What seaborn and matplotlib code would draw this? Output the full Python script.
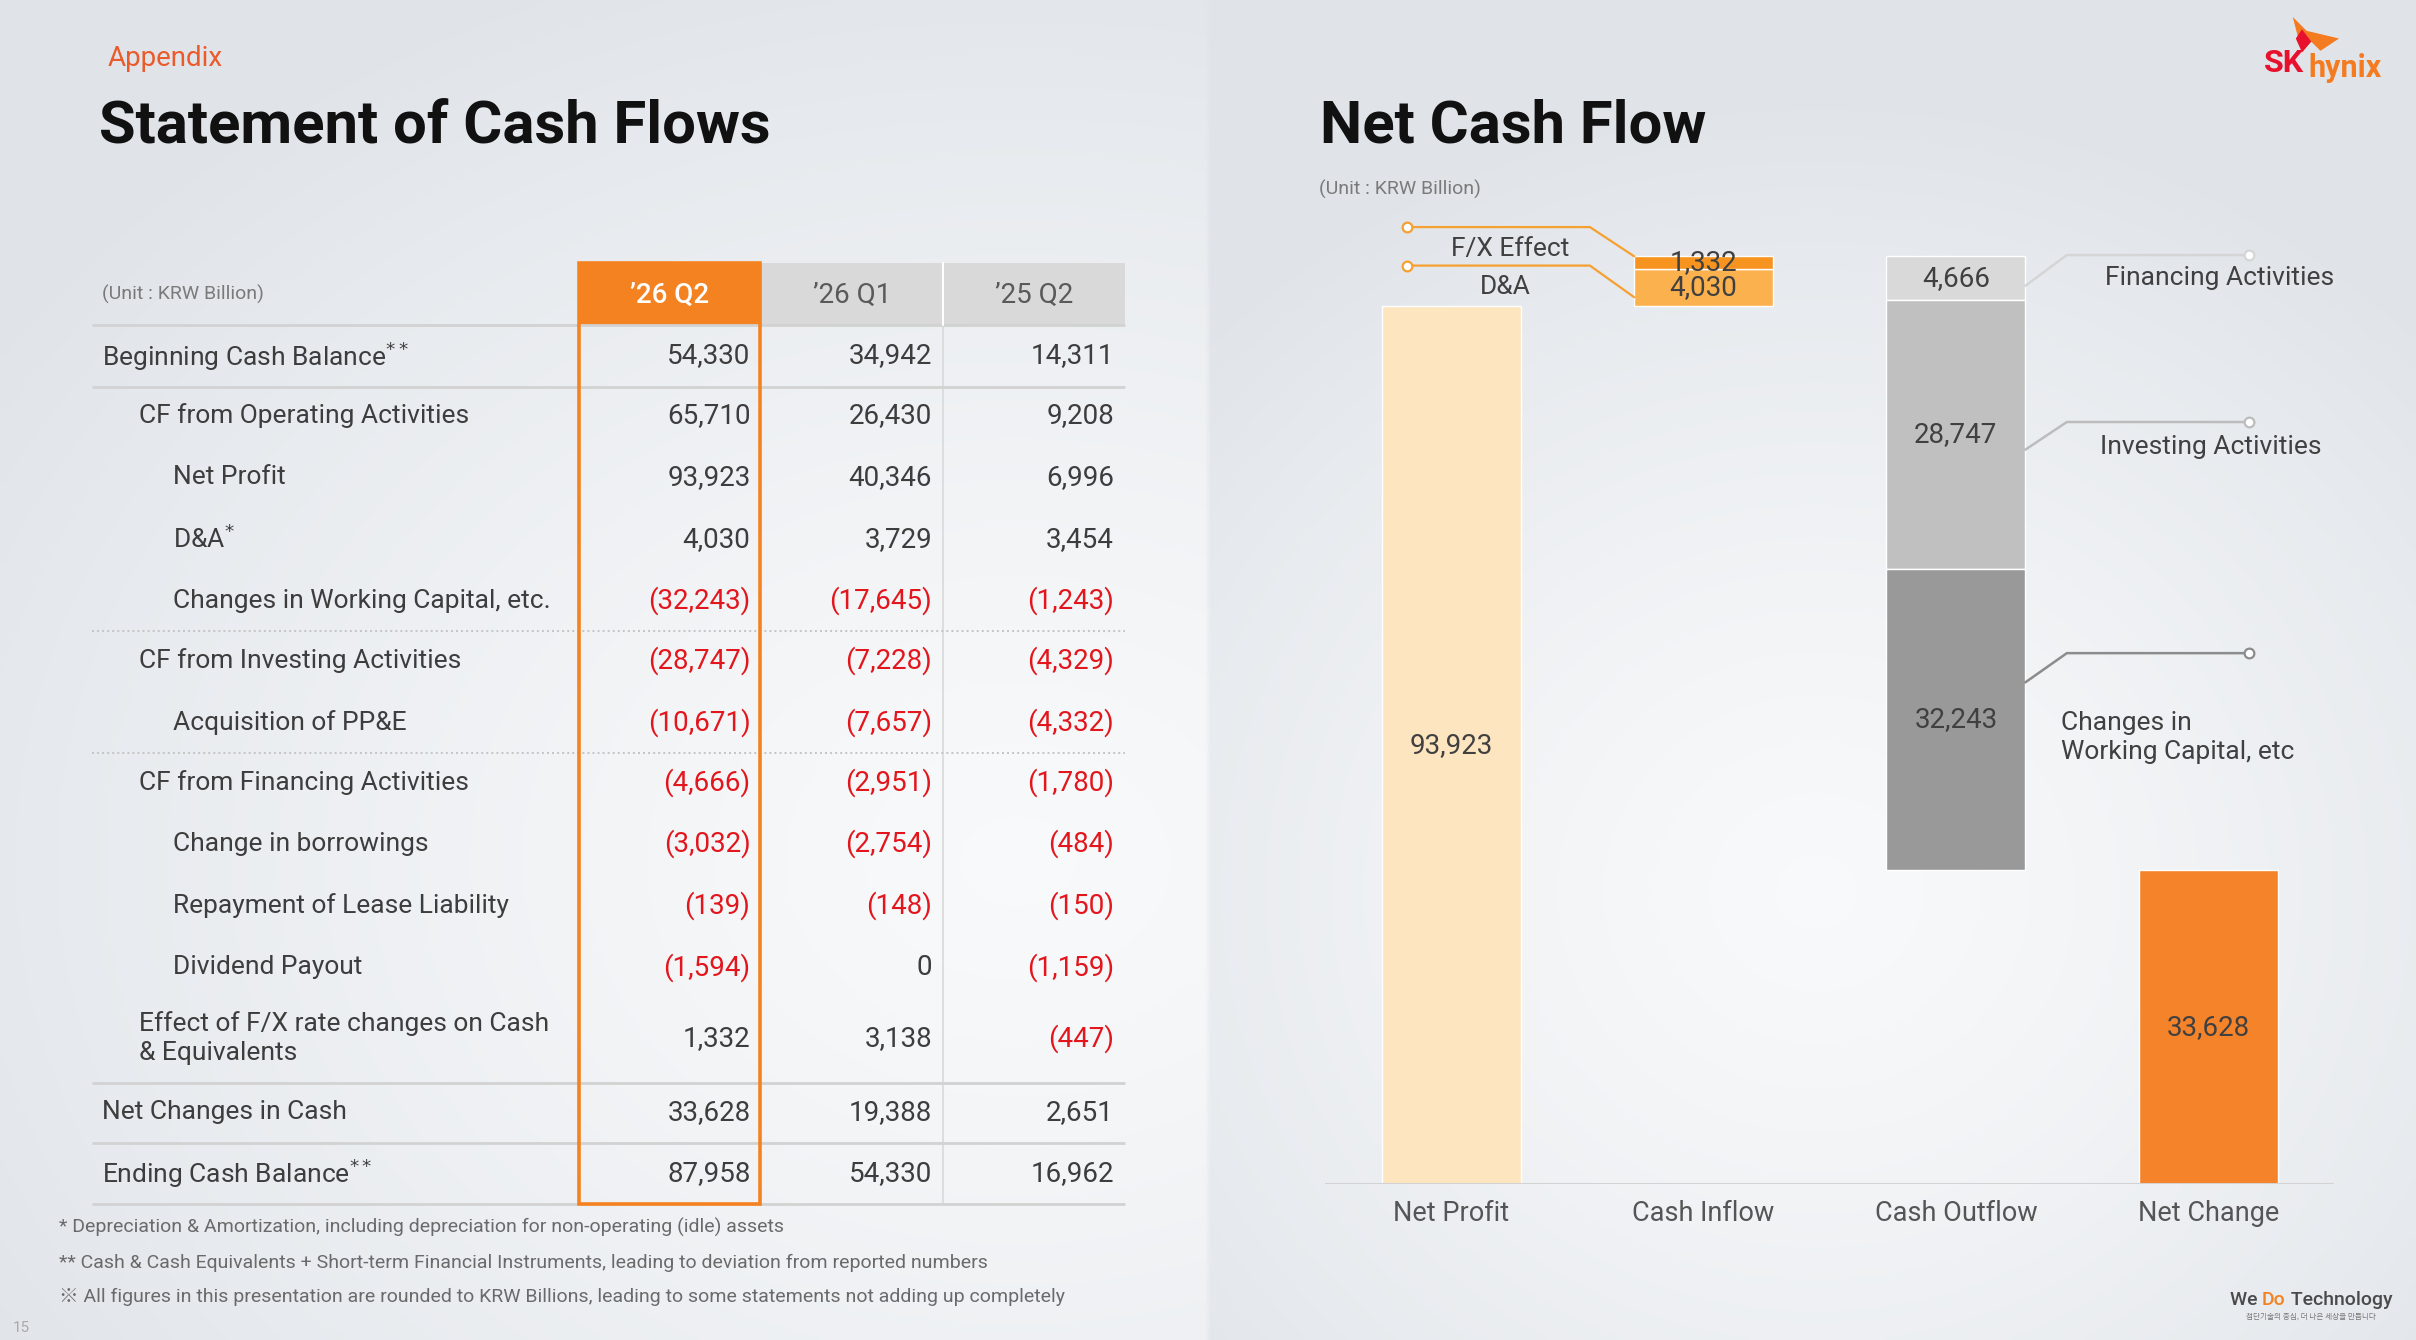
import numpy as np
import pandas as pd
import matplotlib
matplotlib.use("Agg")
import matplotlib.pyplot as plt
import seaborn as sns
from matplotlib.patches import Rectangle, Polygon

# ---------------- table: statement of cash flows ----------------
row_labels = [
    "Beginning Cash Balance", "CF from Operating Activities", "Net Profit", "D&A",
    "Changes in Working Capital, etc.", "CF from Investing Activities", "Acquisition of PP&E",
    "CF from Financing Activities", "Change in borrowings", "Repayment of Lease Liability",
    "Dividend Payout", "Effect of F/X rate changes on Cash\n& Equivalents",
    "Net Changes in Cash", "Ending Cash Balance",
]
row_marks = ["**", "", "", "*", "", "", "", "", "", "", "", "", "", "**"]
row_levels = [0, 1, 2, 2, 2, 1, 2, 1, 2, 2, 2, 1, 0, 0]
col_labels = ["\u201926 Q2", "\u201926 Q1", "\u201925 Q2"]
q2_26 = [54330, 65710, 93923, 4030, -32243, -28747, -10671, -4666, -3032, -139, -1594, 1332, 33628, 87958]
q1_26 = [34942, 26430, 40346, 3729, -17645, -7228, -7657, -2951, -2754, -148, 0, 3138, 19388, 54330]
q2_25 = [14311, 9208, 6996, 3454, -1243, -4329, -4332, -1780, -484, -150, -1159, -447, 2651, 16962]

# ---------------- chart: net cash flow waterfall ----------------
steps = ["Net Profit", "Cash Inflow", "Cash Outflow", "Net Change"]
net_profit = 93923
inflow_items = ["D&A", "F/X Effect"]
inflow_vals = [4030, 1332]
outflow_items = ["Financing Activities", "Investing Activities", "Changes in\nWorking Capital, etc"]
outflow_vals = [4666, 28747, 32243]
net_change = 33628

footnotes = [
    "* Depreciation & Amortization, including depreciation for non-operating (idle) assets",
    "** Cash & Cash Equivalents + Short-term Financial Instruments, leading to deviation from reported numbers",
    "\u203b All figures in this presentation are rounded to KRW Billions, leading to some statements not adding up completely",
]

sns.set_theme(style="white")
plt.rcParams["font.family"] = ["Roboto", "Noto Sans CJK KR", "DejaVu Sans"]

W, H = 1568, 870          # slide units
fig = plt.figure(figsize=(24.16, 13.40), dpi=100)
K = 2416 / W               # pixels per slide unit

# background
bg = fig.add_axes([0, 0, 1, 1])
bg.set_xlim(0, W)
bg.set_ylim(H, 0)
bg.axis("off")
gx, gy = np.meshgrid(np.linspace(0, W, 400), np.linspace(0, H, 240))
edge = np.array([0.880, 0.896, 0.916])
light = np.array([0.974, 0.978, 0.982])
dl = np.clip(np.hypot((gx - 660) / 800, (gy - 560) / 620), 0, 1)
dr = np.clip(np.hypot((gx - 1180) / 560, (gy - 580) / 520), 0, 1)
d = np.where(gx < 783, dl, dr)
img = light + (edge - light) * (d[..., None] ** 1.3)
bg.imshow(img, extent=(0, W, H, 0), aspect="auto", interpolation="bilinear", zorder=0)

ORANGE = "#f58220"
TXT = "#3d3d3d"
RED = "#e2161c"

# ---------------- left side ----------------
bg.text(70, 38, "Appendix", color="#ea5a2a", fontsize=20, va="center", ha="left")
bg.text(64, 82, "Statement of Cash Flows", color="#111111", fontsize=43, fontweight="bold",
        va="center", ha="left")
bg.text(66, 191, "(Unit : KRW Billion)", color="#7a7a7a", fontsize=14, va="center")

col_edges = [375, 494, 612, 730]
num_x = [487, 605, 723]
row_y = [231, 270, 310, 350, 390, 429, 469, 508, 548, 588, 628, 674, 722, 762]
indent_x = [66, 90, 112]

bg.add_patch(Rectangle((col_edges[0], 171), col_edges[1] - col_edges[0], 40, fc=ORANGE, ec="none", zorder=2))
for i in (1, 2):
    bg.add_patch(Rectangle((col_edges[i], 171), col_edges[i + 1] - col_edges[i], 40,
                           fc="#d9d9d9", ec="none", zorder=2))
bg.plot([612, 612], [171, 211], color="white", lw=1.5, zorder=3)
bg.plot([612, 612], [211, 782], color="#d9d9d9", lw=1.2, zorder=2)
for j, lab in enumerate(col_labels):
    cx = (col_edges[j] + col_edges[j + 1]) / 2
    bg.text(cx, 192, lab, ha="center", va="center", fontsize=20,
            color="white" if j == 0 else "#5a5a5a", fontweight="medium" if j == 0 else "normal", zorder=4)

for y in [211, 251, 703, 742, 782]:
    bg.plot([60, 730], [y, y], color="#d2d2d2", lw=2, zorder=2, solid_capstyle="butt")
for y in [410, 489]:
    bg.plot([60, 730], [y, y], color="#c4c4c4", lw=1.4, ls=(0, (1, 1.6)), zorder=2)

for i, (lab, mark, lev) in enumerate(zip(row_labels, row_marks, row_levels)):
    s = lab + (r"$^{" + mark + "}$" if mark else "")
    bg.text(indent_x[lev], row_y[i], s, ha="left", va="center", fontsize=19, color=TXT,
            linespacing=1.25, zorder=4)
    for j, col in enumerate([q2_26, q1_26, q2_25]):
        v = col[i]
        txt = f"({abs(v):,})" if v < 0 else f"{v:,}"
        bg.text(num_x[j], row_y[i], txt, ha="right", va="center", fontsize=20,
                color=RED if v < 0 else TXT, zorder=4)

bg.add_patch(Rectangle((col_edges[0] + 0.5, 171), col_edges[1] - col_edges[0] - 1, 611,
                       fc="none", ec=ORANGE, lw=2.6, zorder=5))

for k, (fn, y) in enumerate(zip(footnotes, [797, 820, 842])):
    bg.text(38, y, fn, ha="left", va="center", fontsize=14, color="#6a6a6a")
bg.text(8, 862, "15", ha="left", va="center", fontsize=11, color="#a9a9a9")

# ---------------- right side ----------------
bg.text(857, 82, "Net Cash Flow", color="#111111", fontsize=43, fontweight="bold", va="center")
bg.text(856, 123, "(Unit : KRW Billion)", color="#7a7a7a", fontsize=14, va="center")

# logo
bg.add_patch(Polygon([(1488, 11), (1497, 20), (1518, 25), (1506, 33), (1500, 27), (1494, 34)],
                     closed=True, fc="#f47b20", ec="none"))
bg.add_patch(Polygon([(1494, 19), (1500, 27), (1494, 34), (1490, 25)], closed=True, fc="#e8112d", ec="none"))
renderer = fig.canvas.get_renderer()
t_sk = bg.text(1469, 41, "SK", color="#e8112d", fontsize=23, fontweight="bold", va="center")
w_sk = t_sk.get_window_extent(renderer).width / K
bg.text(1469 + w_sk + 3, 44, "hynix", color="#f47b20", fontsize=22, fontweight="bold", va="center")

x0 = 1447
for part, colr in [("We ", "#4a4a4a"), ("Do", ORANGE), (" Technology", "#4a4a4a")]:
    t = bg.text(x0, 844, part, color=colr, fontsize=14, fontweight="medium", va="center")
    x0 += t.get_window_extent(renderer).width / K
bg.text(1500, 855, "첨단기술의 중심, 더 나은 세상을 만듭니다", family=["Noto Sans CJK KR"],
        fontsize=5.5, color="#777777", ha="center", va="center")

# chart axes placed over the slide
AX_L, AX_R, AX_B, AX_T = 860, 1515, 769, 101.4
YMAX = 110000
ax = fig.add_axes([AX_L / W, 1 - AX_B / H, (AX_R - AX_L) / W, (AX_B - AX_T) / H])
ax.set_facecolor("none")

inflow_bottoms = net_profit + np.concatenate([[0], np.cumsum(inflow_vals)[:-1]])
inflow_top = net_profit + sum(inflow_vals)
outflow_tops = inflow_top - np.concatenate([[0], np.cumsum(outflow_vals)[:-1]])
outflow_bottoms = outflow_tops - np.array(outflow_vals)
seg = pd.DataFrame({
    "step": ["Net Profit"] + ["Cash Inflow"] * 2 + ["Cash Outflow"] * 3 + ["Net Change"],
    "item": ["Net Profit"] + inflow_items + outflow_items + ["Net Change"],
    "bottom": [0, *inflow_bottoms, *outflow_bottoms, 0],
    "height": [net_profit, *inflow_vals, *outflow_vals, net_change],
})
seg_colors = {
    "Net Profit": "#fde5c0", "D&A": "#fbb14e", "F/X Effect": "#f7941f",
    "Financing Activities": "#d9d9d9", "Investing Activities": "#c0c0c0",
    "Changes in\nWorking Capital, etc": "#999999", "Net Change": "#f5832a",
}
BW = 0.55
for _, r in seg.iterrows():
    sns.barplot(x=[r["step"]], y=[r["height"]], order=steps, bottom=r["bottom"],
                color=seg_colors[r["item"]], saturation=1, width=BW, errorbar=None, ax=ax)
    ax.text(steps.index(r["step"]), r["bottom"] + r["height"] / 2, f"{int(r['height']):,}",
            ha="center", va="center", fontsize=20, color="#404040")

ax.set_xlim(-0.5, 3.5)
ax.set_ylim(0, YMAX)
ax.axhline(0, color="#d3d3d3", lw=2.2, zorder=3)
ax.set_yticks([])
ax.set_xlabel("")
ax.set_ylabel("")
ax.tick_params(axis="x", length=0, pad=11, labelsize=19.5, labelcolor="#555555")
sns.despine(ax=ax, left=True, bottom=True)

vpp = YMAX / (AX_B - AX_T)     # value per slide unit
cpp = 4 / (AX_R - AX_L)        # category per slide unit

# orange connectors (inflow)
left_in = 1 - BW / 2
cx0 = (913 - 942) * cpp
cx1 = (1032 - 942) * cpp
lc = "#f5a030"
fx_y = inflow_top + 19 * vpp
ax.plot([cx0, cx1, left_in], [fx_y, fx_y, inflow_top], color=lc, lw=1.6, clip_on=False)
da_y = inflow_top - 6 * vpp
ax.plot([cx0, cx1, left_in], [da_y, da_y, net_profit + 6 * vpp], color=lc, lw=1.6, clip_on=False)
ax.plot([cx0, cx0], [fx_y, da_y], ls="none", marker="o", ms=7, mfc="white", mec=lc, mew=1.6, clip_on=False)
ax.text((980 - 942) * cpp, inflow_top + 5 * vpp, "F/X Effect", ha="center", va="center",
        fontsize=19, color="#404040")
ax.text((977 - 942) * cpp, inflow_top - 20 * vpp, "D&A", ha="center", va="center",
        fontsize=19, color="#404040")

# grey connectors (outflow)
right_out = 2 + BW / 2
kink_x = right_out + 27 * cpp
end_x = (1460 - 942) * cpp
centers = outflow_bottoms + np.array(outflow_vals) / 2
offsets = [(-5, 15), (-10, 8), (24, 43)]
line_cols = ["#d5d5d5", "#bcbcbc", "#8c8c8c"]
text_pos = [(1366, 0), (1363, -8), (1338, -12)]
for c, (o_s, o_k), lcol, (tx, ty), name in zip(centers, offsets, line_cols, text_pos, outflow_items):
    ys, yk = c + o_s * vpp, c + o_k * vpp
    ax.plot([right_out, kink_x, end_x], [ys, yk, yk], color=lcol, lw=1.8, clip_on=False)
    ax.plot([end_x], [yk], marker="o", ms=7, mfc="white", mec=lcol, mew=1.6, clip_on=False)
    ax.text((tx - 942) * cpp, c + ty * vpp, name, ha="left", va="center", fontsize=19,
            color="#404040", linespacing=1.25)

fig.savefig("out.png", dpi=100)
